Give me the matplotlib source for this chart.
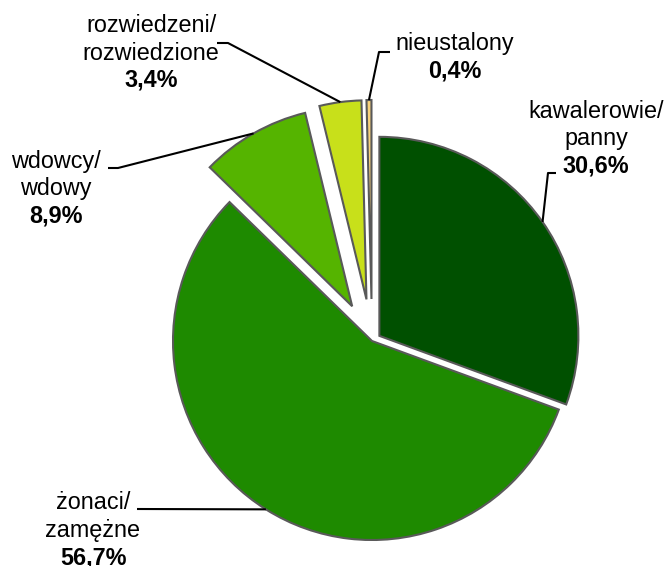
import numpy as np
import matplotlib.pyplot as plt

plt.rcParams['font.family'] = ['Liberation Sans', 'DejaVu Sans']

# Define data
labels = ['kawalerowie/\npanny', 'żonaci/\nzamężne', 'wdowcy/\nwdowy',
          'rozwiedzeni/\nrozwiedzione', 'nieustalony']
shares = [30.6, 56.7, 8.9, 3.4, 0.4]
colors = ['#005000', '#1e8a00', '#55b400', '#c8e01a', '#f8d27a']

# layout in pixels (y measured from the top of the image)
W, H = 668, 566
center = (372, H - 341)
radius = 199
explode = [9, 0, 40, 42, 42]
# text x centre, first baseline, leader elbow points
text_pos = [(596, 118), (93, 509), (56, 168), (151, 32), (455, 50)]
elbows = [[(548, 173), (556, 173)],
          [(137, 509)],
          [(118, 168), (108, 168)],
          [(228, 43), (217, 43)],
          [(379, 52), (390, 52)]]
line_step = 27.5

fig = plt.figure(figsize=(W / 100, H / 100), dpi=100)
ax = fig.add_axes([0, 0, 1, 1])
ax.set_xlim(0, W)
ax.set_ylim(0, H)
ax.set_aspect('equal')
ax.axis('off')

wedges, _ = ax.pie(shares, colors=colors, explode=explode, center=center,
                   radius=radius, startangle=90, counterclock=False,
                   wedgeprops=dict(edgecolor='#595959', linewidth=1.5),
                   frame=True)
ax.set_xlim(0, W)
ax.set_ylim(0, H)
ax.axis('off')

for w, name, val, (tx, ty), elb in zip(wedges, labels, shares, text_pos, elbows):
    # leader line from the middle of the wedge arc
    mid = np.deg2rad((w.theta1 + w.theta2) / 2)
    ax_x = w.center[0] + w.r * np.cos(mid)
    ax_y = w.center[1] + w.r * np.sin(mid)
    xs = [ax_x] + [p[0] for p in elb]
    ys = [ax_y] + [H - p[1] for p in elb]
    ax.plot(xs, ys, color='black', lw=1.5, solid_capstyle='butt')

    lines = name.split('\n')
    for i, ln in enumerate(lines):
        ax.text(tx, H - ty - i * line_step, ln, ha='center', va='baseline',
                fontsize=16.8)
    pct = f'{val:.1f}'.replace('.', ',') + '%'
    ax.text(tx, H - ty - len(lines) * line_step, pct, ha='center',
            va='baseline', fontsize=16.8, fontweight='bold')

fig.savefig('out.png', dpi=100)
